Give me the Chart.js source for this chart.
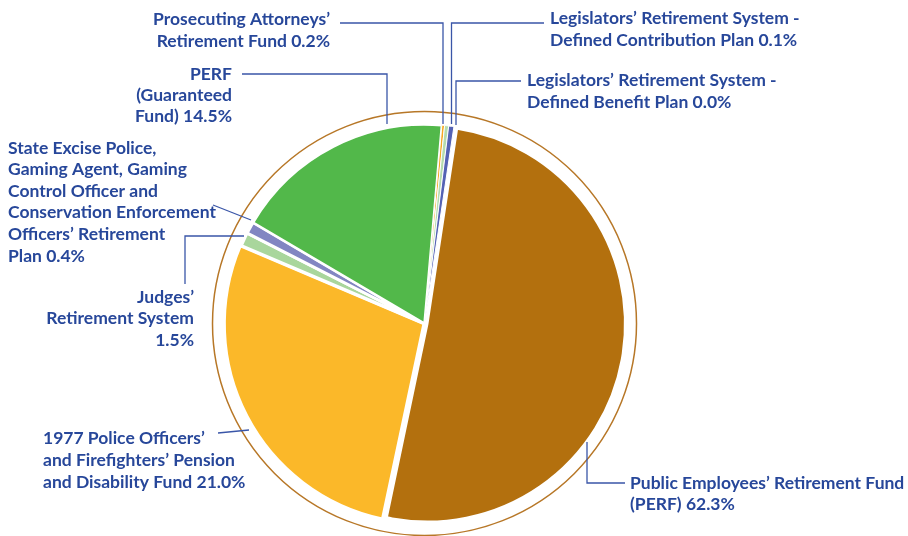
<!DOCTYPE html>
<html>
<head>
<meta charset="utf-8">
<script src="https://cdn.jsdelivr.net/npm/chart.js@4.4.0/dist/chart.umd.min.js"></script>
<style>
  body { margin: 0; background: #fff; }
  #wrap { position: relative; width: 908px; height: 536px; }
</style>
</head>
<body>
<div id="wrap"><canvas id="myPie" width="908" height="536"></canvas></div>
<script>
// slices in drawing order, clockwise from the top (shares as drawn in the picture)
var funds = ['PERF', '1977 Fund', 'Judges', 'Excise', 'PERF Guaranteed', 'Prosecuting', 'Legislators DC', 'Legislators DB'];
var shares = [50.97, 28.06, 1.11, 0.97, 17.92, 0.22, 0.33, 0.42];
var colors = ['#b3700e', '#fbb829', '#a9d69c', '#8286c2', '#52b84a', '#f7a823', '#b5dcae', '#5462b4'];

// label texts, as printed
var labelLines = [
    ['Public Employees’ Retirement Fund', '(PERF) 62.3%'],
    ['1977 Police Officers’', 'and Firefighters’ Pension', 'and Disability Fund 21.0%'],
    ['Judges’', 'Retirement System', '1.5%'],
    ['State Excise Police,', 'Gaming Agent, Gaming', 'Control Officer and', 'Conservation Enforcement', 'Officers’ Retirement', 'Plan 0.4%'],
    ['PERF', '(Guaranteed', 'Fund) 14.5%'],
    ['Prosecuting Attorneys’', 'Retirement Fund 0.2%'],
    ['Legislators’ Retirement System -', 'Defined Contribution Plan 0.1%'],
    ['Legislators’ Retirement System -', 'Defined Benefit Plan 0.0%']
];
// where each label block sits: x, first line y, alignment, line height
var labelPos = [
    [630, 483, 'left', 21.5],
    [43, 438, 'left', 22],
    [194, 297, 'right', 21.5],
    [8, 148, 'left', 21.6],
    [232, 74, 'right', 21],
    [330, 19, 'right', 22],
    [550, 18, 'left', 22],
    [527, 80, 'left', 22]
];
// leader lines
var leaders = [
    [[625, 483], [587, 483], [587, 442]],
    [[218, 433], [249, 430]],
    [[185, 284], [185, 236], [244, 236]],
    [[213, 205], [251, 220]],
    [[242, 74], [387, 74], [387, 124]],
    [[340, 23], [443, 23], [443, 124]],
    [[544, 23], [451.5, 23], [451.5, 124]],
    [[521, 81], [456, 81], [456, 125]]
];

var ringPlugin = {
    id: 'ring',
    afterDatasetUpdate: function (chart, args) {
        // the PERF slice is drawn a little smaller than the others
        var big = args.meta.data[0];
        big.outerRadius = big.outerRadius - 4.5;
    },
    beforeDatasetsDraw: function (chart) {
        var arc = chart.getDatasetMeta(0).data[1];
        var ctx = chart.ctx;
        ctx.save();
        ctx.beginPath();
        ctx.arc(arc.x, arc.y, arc.outerRadius + 13, 0, Math.PI * 2);
        ctx.strokeStyle = '#b77727';
        ctx.lineWidth = 1.5;
        ctx.stroke();
        ctx.restore();
    },
    afterDraw: function (chart) {
        var ctx = chart.ctx;
        ctx.save();
        ctx.strokeStyle = '#3a56a8';
        ctx.lineWidth = 1.3;
        leaders.forEach(function (pts) {
            ctx.beginPath();
            ctx.moveTo(pts[0][0], pts[0][1]);
            for (var i = 1; i < pts.length; i++) ctx.lineTo(pts[i][0], pts[i][1]);
            ctx.stroke();
        });
        ctx.fillStyle = '#27479a';
        ctx.font = 'bold 17.5px Lato';
        ctx.textBaseline = 'middle';
        labelLines.forEach(function (lines, i) {
            var p = labelPos[i];
            ctx.textAlign = p[2];
            lines.forEach(function (t, j) {
                ctx.fillText(t, p[0], p[1] + j * p[3]);
            });
        });
        ctx.restore();
    }
};

var ctxpie = document.getElementById('myPie').getContext('2d');
var myPieChart = new Chart(ctxpie, {
    type: 'pie',
    data: {
        labels: funds,
        datasets: [{
            data: shares,
            backgroundColor: colors,
            borderColor: '#ffffff',
            borderWidth: [2, 2.5, 3, 3, 2.5, 1, 1, 1],
            offset: [12, 4, 0, 0, 0, 0, 0, 0]
        }]
    },
    options: {
        responsive: false,
        animation: false,
        events: [],
        rotation: 8.5,
        layout: { padding: { left: 218, right: 277, top: 117, bottom: 6 } },
        plugins: { legend: { display: false }, tooltip: { enabled: false } }
    },
    plugins: [ringPlugin]
});
</script>
</body>
</html>
